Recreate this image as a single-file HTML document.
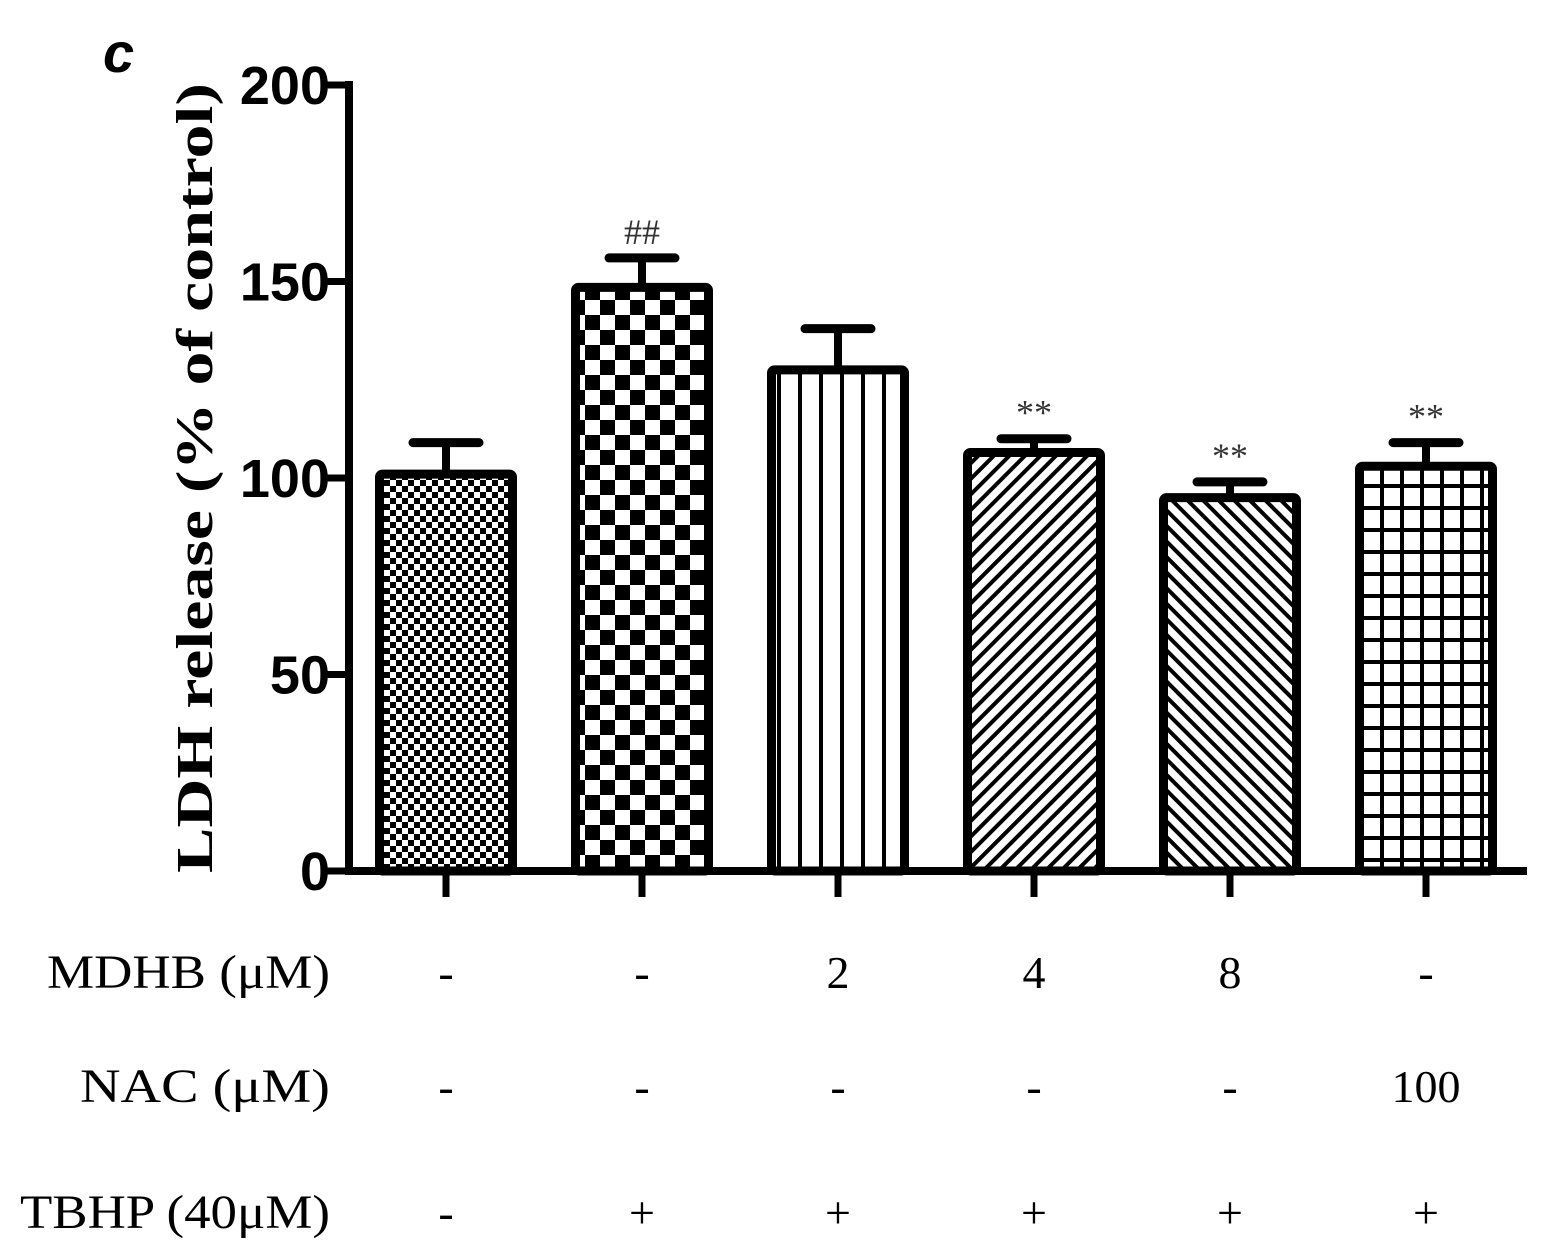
<!DOCTYPE html>
<html><head><meta charset="utf-8"><style>
html,body{margin:0;padding:0;background:#fff;}
svg{display:block;}
text{font-family:"Liberation Serif",serif;}
</style></head><body>
<svg id="chart" width="1541" height="1247" viewBox="0 0 1541 1247">
<defs>
<pattern id="p0" width="12" height="12" patternUnits="userSpaceOnUse"><rect width="12" height="12" fill="#fff"/><rect width="6" height="6" fill="#000"/><rect x="6" y="6" width="6" height="6" fill="#000"/></pattern>
<pattern id="p1" width="30" height="30" patternUnits="userSpaceOnUse"><rect width="30" height="30" fill="#fff"/><rect width="15" height="15" fill="#000"/><rect x="15" y="15" width="15" height="15" fill="#000"/></pattern>
<pattern id="p2" width="21" height="10" patternUnits="userSpaceOnUse"><rect width="21" height="10" fill="#fff"/><rect x="0" width="4" height="10" fill="#000"/></pattern>
<pattern id="p3" width="11" height="11" patternUnits="userSpaceOnUse" patternTransform="rotate(45)"><rect width="11" height="11" fill="#fff"/><rect width="4" height="11" fill="#000"/></pattern>
<pattern id="p4" width="11" height="11" patternUnits="userSpaceOnUse" patternTransform="rotate(-45)"><rect width="11" height="11" fill="#fff"/><rect width="4" height="11" fill="#000"/></pattern>
<pattern id="p5" width="20" height="22" patternUnits="userSpaceOnUse"><rect width="20" height="22" fill="#fff"/><rect width="4" height="22" fill="#000"/><rect width="20" height="4" fill="#000"/></pattern>
</defs>
<text x="103" y="72" font-style="italic" font-weight="bold" font-size="56" style="font-family:'Liberation Sans',sans-serif">c</text>
<g id="axes"></g>
<g id="bars"></g>
<text transform="translate(212,478) rotate(-90)" text-anchor="middle" font-size="52" font-weight="bold" textLength="790" lengthAdjust="spacingAndGlyphs">LDH release (% of control)</text>
</svg>
<script>
const categories=["control","TBHP","MDHB2","MDHB4","MDHB8","NAC100"];
const values=[101,148.5,127.5,106.5,95,103];
const errors=[8,7.5,10.5,3.5,4,6];
const sigLabels=["","##","","**","**","**"];
const yTicks=[0,50,100,150,200];
const mdhb=["-","-","2","4","8","-"];
const nac=["-","-","-","-","-","100"];
const tbhp=["-","+","+","+","+","+"];
const ns="http://www.w3.org/2000/svg";
const axes=document.getElementById('axes');
const bars=document.getElementById('bars');
const y=v=>871-v*3.93;
const xc=i=>446+i*196;
function mk(tag,attrs,parent,txt){const e=document.createElementNS(ns,tag);for(const k in attrs)e.setAttribute(k,attrs[k]);if(txt!==undefined)e.textContent=txt;parent.appendChild(e);return e;}
let e=mk('line',{x1:349,y1:y(200)-4,x2:349,y2:875,stroke:'#000','stroke-width':8},axes);


e=mk('line',{x1:345,y1:871,x2:1527,y2:871,stroke:'#000','stroke-width':8},axes);


yTicks.forEach(t=>{
  mk('line',{x1:325,y1:y(t),x2:349,y2:y(t),stroke:'#000','stroke-width':7},axes);
  e=mk('text',{x:330,y:y(t)+19,'text-anchor':'end','font-size':54,'font-weight':'bold',style:"font-family:'Liberation Sans',sans-serif"},axes,String(t));
  
  
});
categories.forEach((c,i)=>{
  const cx=xc(i),w=133,top=y(values[i]),et=y(values[i]+errors[i]);
  mk('line',{x1:cx,y1:871,x2:cx,y2:897,stroke:'#000','stroke-width':7},axes);
  mk('line',{x1:cx,y1:et,x2:cx,y2:top,stroke:'#000','stroke-width':8},bars);
  mk('line',{x1:cx-33,y1:et,x2:cx+33,y2:et,stroke:'#000','stroke-width':9,'stroke-linecap':'round'},bars);
  e=mk('rect',{x:cx-w/2,y:top,width:w,height:871-top,fill:'url(#p'+i+')',stroke:'#000','stroke-width':9,rx:3},bars);
  
  
  if(sigLabels[i]){
    e=mk('text',{x:cx,y:et-14,'text-anchor':'middle','font-size':36,fill:'#333'},bars,sigLabels[i]);
    
    
  }
  [[mdhb,988],[nac,1102],[tbhp,1228]].forEach(([arr,yy])=>{
    e=mk('text',{x:cx,y:yy,'text-anchor':'middle','font-size':46},axes,arr[i]);
    
    
  });
});
[["MDHB (μM)",988,"mdhb-row-label",283],["NAC (μM)",1102,"nac-row-label",250],["TBHP (40μM)",1228,"tbhp-row-label",310]].forEach(([t,yy,n,len])=>{
  e=mk('text',{x:330,y:yy,'text-anchor':'end','font-size':48,textLength:len,lengthAdjust:'spacingAndGlyphs'},axes,t);
  
  
});
</script>
</body></html>
